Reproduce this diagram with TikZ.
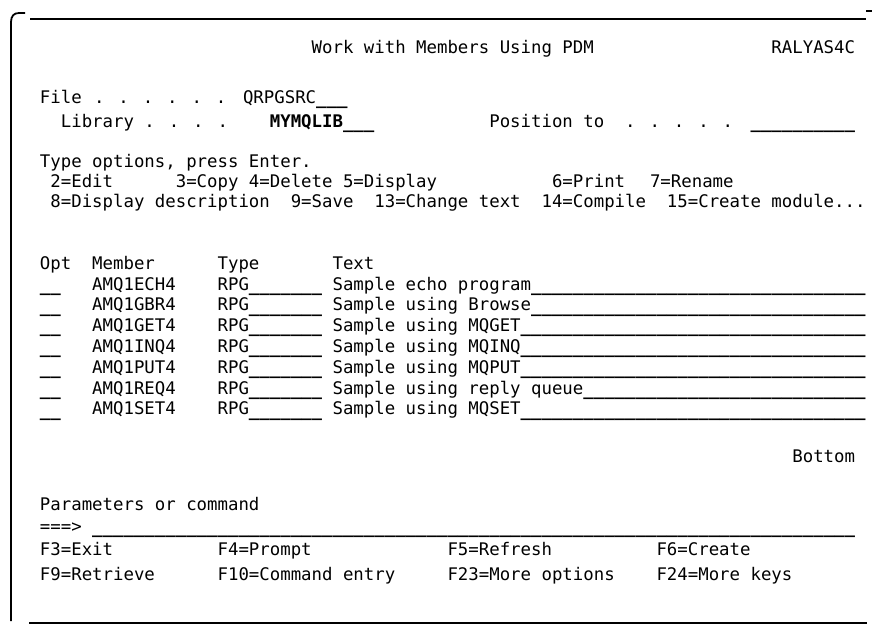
\documentclass[tikz,border=0pt]{standalone}
\usepackage{fontspec}
\newfontfamily\termfont{DejaVu Sans Mono}
% a run of input-field underscores, set a little low like on the terminal
\ExplSyntaxOn
\NewDocumentCommand\blanks{m}{\raisebox{-1.2pt}{\bfseries\prg_replicate:nn{#1}{\textunderscore}}}
\ExplSyntaxOff
\tikzset{
  scr/.style={anchor=base west, inner sep=0pt, outer sep=0pt,
    font=\termfont\fontsize{17.36}{20}\selectfont},
  frameline/.style={line width=1.8pt},
}
\begin{document}
\begin{tikzpicture}[x=1pt,y=-1pt]
\useasboundingbox (0,0) rectangle (872,627);
% screen frame
\draw[frameline] (30,19) -- (866,19);
\draw[line width=1.2pt] (866,11) -- (872,11);
\draw[frameline] (25,13) -- (19,13) .. controls (14,13) and (11,16) .. (11,22) -- (11,621);
\draw[frameline] (29,623) -- (867,623);

% header
\node[scr] (title) at (311.65,53) {Work with Members Using PDM};
\node[scr] (sys) at (771.45,53) {RALYAS4C};

% file / library
\node[scr] (filelbl) at (39.95,103) {File};
\node[scr] (filedots) at (94,103) {. . . . . .};
\node[scr] (fileval) at (243,103) {QRPGSRC\blanks{3}};
\node[scr] (liblbl) at (60.85,127) {Library};
\node[scr] (libdots) at (144.45,127) {. . . .};
\node[scr] (libval) at (269.85,127) {\textbf{MYMQLIB}\blanks{3}};
\node[scr] (poslbl) at (489.3,127) {Position to};
\node[scr] (posdots) at (625.15,127) {. . . . .};
\node[scr] (posval) at (750.55,127) {\blanks{10}};

% options
\node[scr] (typeopt) at (39.95,167) {Type options, press Enter.};
\node[scr] (o2) at (50.4,187) {2=Edit};
\node[scr] (o3) at (175.8,187) {3=Copy};
\node[scr] (o4) at (248.95,187) {4=Delete};
\node[scr] (o5) at (343,187) {5=Display};
\node[scr] (o6) at (552,187) {6=Print};
\node[scr] (o7) at (650,187) {7=Rename};
\node[scr] (o8) at (50.4,207) {8=Display description};
\node[scr] (o9) at (290.75,207) {9=Save};
\node[scr] (o13) at (374.35,207) {13=Change text};
\node[scr] (o14) at (541.55,207) {14=Compile};
\node[scr] (o15) at (666.95,207) {15=Create module...};

% member list
\node[scr] (hopt) at (39.95,269) {Opt};
\node[scr] (hmem) at (92.2,269) {Member};
\node[scr] (htype) at (217.6,269) {Type};
\node[scr] (htext) at (332.55,269) {Text};

\foreach \name/\txt/\n [count=\k from 0] in {
    AMQ1ECH4/Sample echo program/32,
    AMQ1GBR4/Sample using Browse/32,
    AMQ1GET4/Sample using MQGET/33,
    AMQ1INQ4/Sample using MQINQ/33,
    AMQ1PUT4/Sample using MQPUT/33,
    AMQ1REQ4/Sample using reply queue/27,
    AMQ1SET4/Sample using MQSET/33} {
  \pgfmathsetmacro{\yb}{290+20.8*\k}
  \node[scr] (opt\k) at (39.95,\yb) {\blanks{2}};
  \node[scr] (mem\k) at (92.2,\yb) {\name};
  \node[scr] (typ\k) at (217.6,\yb) {RPG\blanks{7}};
  \node[scr] (txt\k) at (332.55,\yb) {\txt\blanks{\n}};
}

% footer
\node[scr] (bottom) at (792.35,462) {Bottom};
\node[scr] (parm) at (39.95,510) {Parameters or command};
\node[scr] (prompt) at (39.95,532) {===>};
\node[scr] (cmd) at (92.2,532) {\blanks{73}};
\node[scr] (f3) at (39.95,555) {F3=Exit};
\node[scr] (f4) at (217.6,555) {F4=Prompt};
\node[scr] (f5) at (447.5,555) {F5=Refresh};
\node[scr] (f6) at (656.5,555) {F6=Create};
\node[scr] (f9) at (39.95,580) {F9=Retrieve};
\node[scr] (f10) at (217.6,580) {F10=Command entry};
\node[scr] (f23) at (447.5,580) {F23=More options};
\node[scr] (f24) at (656.5,580) {F24=More keys};
\end{tikzpicture}
\end{document}
